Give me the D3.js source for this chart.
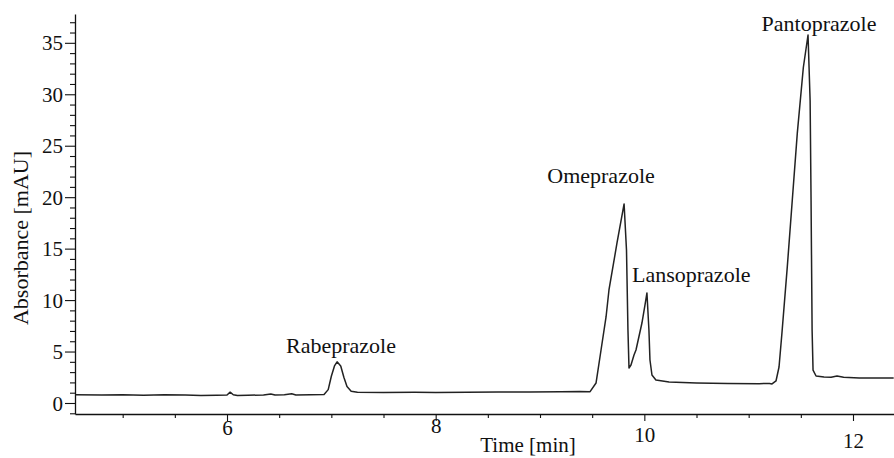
<!DOCTYPE html>
<html>
<head>
<meta charset="utf-8">
<script src="https://cdn.jsdelivr.net/npm/d3@7"></script>
<style>
  html, body { margin: 0; padding: 0; background: #fff; }
  svg { display: block; }
  text { font-family: "Liberation Serif", "Times New Roman", serif; fill: #111; }
</style>
</head>
<body>
<svg id="chart" width="894" height="458"></svg>
<script>
// ---- data (time in min, absorbance in mAU) ----
const times = [
  4.55, 4.8, 5.0, 5.2, 5.4, 5.6, 5.75, 5.9, 6.0, 6.03, 6.06, 6.1, 6.2, 6.35, 6.42, 6.46, 6.55, 6.62, 6.66, 6.8, 6.93,
  6.97, 7.0, 7.03, 7.055, 7.09, 7.12, 7.15, 7.19, 7.25, 7.5, 7.8, 8.0, 8.3, 8.6, 8.9, 9.2, 9.38, 9.48,
  9.537, 9.585, 9.633, 9.661, 9.738, 9.806, 9.829, 9.843, 9.853, 9.872, 9.901, 9.92, 9.977, 10.006, 10.025,
  10.044, 10.054, 10.073, 10.111, 10.237, 10.5, 10.8, 11.1, 11.2, 11.224, 11.262, 11.291, 11.319, 11.37,
  11.418, 11.466, 11.524, 11.569, 11.589, 11.598, 11.608, 11.617, 11.646, 11.722, 11.79, 11.847, 11.91,
  12.06, 12.25, 12.39
];
const absorbance = [
  0.80, 0.78, 0.80, 0.76, 0.80, 0.78, 0.72, 0.75, 0.78, 1.05, 0.80, 0.72, 0.75, 0.78, 0.88, 0.78, 0.80, 0.90, 0.78, 0.80, 0.82,
  1.3, 2.6, 3.6, 4.0, 3.6, 2.5, 1.6, 1.15, 1.05, 1.02, 1.05, 1.03, 1.05, 1.07, 1.08, 1.10, 1.12, 1.10,
  1.94, 5.15, 8.36, 10.98, 15.55, 19.34, 14.87, 7.09, 3.40, 3.69, 4.66, 5.15, 7.77, 9.52, 10.69,
  7.09, 4.18, 2.72, 2.24, 2.04, 1.95, 1.90, 1.88, 1.90, 1.85, 2.14, 3.50, 6.80, 13.2,
  19.7, 26.2, 32.6, 35.76, 29.4, 19.7, 7.1, 3.2, 2.62, 2.53, 2.50, 2.62, 2.50,
  2.43, 2.43, 2.43
];
const peakNames = ["Rabeprazole", "Omeprazole", "Lansoprazole", "Pantoprazole"];
const peakTimes = [7.093, 9.585, 9.882, 11.674];
const peakLabelLevels = [4.9, 21.4, 11.8, 36.1];
const peakAnchors = ["middle", "middle", "start", "middle"];
const xTickValues = d3.range(5, 12.01, 0.5);
const xTickLabels = [6, 8, 10, 12];
const yTickValues = d3.range(-1, 38, 1);
const yTickLabels = [0, 5, 10, 15, 20, 25, 30, 35];
const xTitle = "Time [min]";
const yTitle = "Absorbance [mAU]";

// ---- layout (label drop below the x axis, px; the scanned figure is uneven) ----
const xLabelDrop = {6: 14, 8: 12, 10: 21, 12: 27};

// ---- scales ----
const svg = d3.select("#chart");
const x = d3.scaleLinear().domain([4.543, 12.393]).range([75, 894]);
const y = d3.scaleLinear().domain([-1.07, 37.8]).range([414, 14]);

// ---- x axis ----
const xAxis = svg.append("g")
  .attr("transform", `translate(0,${y(-1.07)})`)
  .call(d3.axisBottom(x).tickValues(xTickValues).tickSizeOuter(0)
    .tickFormat(d => xTickLabels.includes(d) ? d : ""));
xAxis.select(".domain").attr("stroke", "#111").attr("stroke-width", 1.3);
xAxis.selectAll(".tick line").attr("stroke", "#111").attr("stroke-width", 1.1)
  .attr("y2", d => xTickLabels.includes(d) ? 7 : 4);
xAxis.selectAll(".tick text")
  .attr("y", d => xLabelDrop[d] !== undefined ? xLabelDrop[d] : 27)
  .attr("dy", "0.35em")
  .style("font-size", "21px").style("font-family", "'Liberation Serif', serif").attr("fill", "#111");

// ---- y axis ----
const yAxis = svg.append("g")
  .attr("transform", `translate(${x(4.543)},0)`)
  .call(d3.axisLeft(y).tickValues(yTickValues).tickSizeOuter(0)
    .tickFormat(d => yTickLabels.includes(d) ? d : ""));
yAxis.select(".domain").attr("stroke", "#111").attr("stroke-width", 1.3);
yAxis.selectAll(".tick line").attr("stroke", "#111").attr("stroke-width", 1.1)
  .attr("x2", d => yTickLabels.includes(d) ? -10 : -5);
yAxis.selectAll(".tick text").attr("x", -12).attr("dy", "0.34em")
  .style("font-size", "21px").style("font-family", "'Liberation Serif', serif").attr("fill", "#111");

// ---- trace ----
const pts = times.map((t, i) => [t, absorbance[i]]);
svg.append("path")
  .datum(pts)
  .attr("fill", "none")
  .attr("stroke", "#222")
  .attr("stroke-width", 1.5)
  .attr("stroke-linejoin", "round")
  .attr("d", d3.line().x(d => x(d[0])).y(d => y(d[1])));

// ---- peak labels ----
svg.selectAll("text.peak")
  .data(peakNames)
  .enter().append("text")
  .attr("class", "peak")
  .attr("x", (d, i) => x(peakTimes[i]))
  .attr("y", (d, i) => y(peakLabelLevels[i]))
  .attr("text-anchor", (d, i) => peakAnchors[i])
  .style("font-size", "22px")
  .text(d => d);

// ---- axis titles ----
svg.append("text")
  .attr("x", 528).attr("y", 452)
  .attr("text-anchor", "middle")
  .style("font-size", "21px")
  .text(xTitle);
svg.append("text")
  .attr("transform", "translate(28,238) rotate(-90)")
  .attr("text-anchor", "middle")
  .style("font-size", "22px")
  .text(yTitle);
</script>
</body>
</html>
